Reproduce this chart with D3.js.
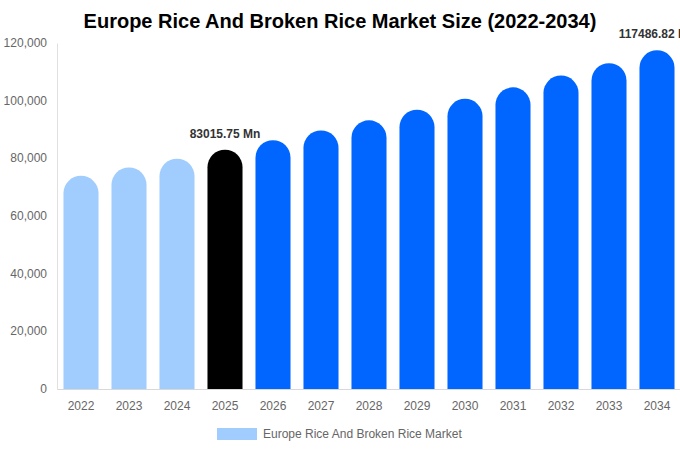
<!DOCTYPE html>
<html>
<head>
<meta charset="utf-8">
<script src="https://d3js.org/d3.v7.min.js"></script>
<style>
body { margin: 0; background: #fff; }
svg { font-family: "Liberation Sans", Arial, sans-serif; }
.tick text { fill: #666; font-size: 12px; }
</style>
</head>
<body>
<svg width="680" height="450"></svg>
<script>
var years = ["2022","2023","2024","2025","2026","2027","2028","2029","2030","2031","2032","2033","2034"];
var values = [73950, 76860, 79880, 83015.75, 86280, 89670, 93190, 96860, 100660, 104620, 108730, 113000, 117486.82];
var yTicks = [0, 20000, 40000, 60000, 80000, 100000, 120000];
var labelled = {"2025": "83015.75 Mn", "2034": "117486.82 Mn"};

var svg = d3.select("svg");
var margin = {left: 57, right: 0, top: 43, bottom: 61};
var width = 680 - margin.left - margin.right,
    height = 450 - margin.top - margin.bottom;

var x = d3.scaleBand().domain(years).range([0, 624]).paddingInner(0.27).paddingOuter(0.135);
var y = d3.scaleLinear().domain([0, 120000]).range([height, 0]);

function barColor(yr) {
  if (+yr < 2025) return "#a0cdfd";
  if (+yr == 2025) return "#000000";
  return "#0066ff";
}

svg.append("text")
   .attr("x", 340).attr("y", 28)
   .attr("text-anchor", "middle")
   .style("font-size", "20px").style("font-weight", "bold").style("fill", "#000")
   .text("Europe Rice And Broken Rice Market Size (2022-2034)");

var g = svg.append("g").attr("transform", "translate(" + margin.left + "," + margin.top + ")");

var yAxis = g.append("g").call(d3.axisLeft(y).tickValues(yTicks).tickSize(0).tickPadding(10).tickFormat(d3.format(",")));
yAxis.select(".domain").attr("stroke", "#e0e0e0");
yAxis.selectAll("text").attr("dy", "0.3em");

var xAxis = g.append("g").attr("transform", "translate(0," + height + ")")
   .call(d3.axisBottom(x).tickSize(0).tickPadding(12));
xAxis.select(".domain").attr("stroke", "#d8d8d8");

function capPath(d, i) {
  var x0 = x(years[i]), w = x.bandwidth(), r = w / 2;
  var top = y(d), bot = y(0);
  return "M" + x0 + "," + bot +
         "V" + (top + r) +
         "A" + r + "," + r + " 0 0 1 " + (x0 + w) + "," + (top + r) +
         "V" + bot + "Z";
}

g.selectAll(".bar").data(values).enter().append("path")
   .attr("class", "bar")
   .attr("d", capPath)
   .attr("fill", function(d, i) { return barColor(years[i]); });

g.selectAll(".lbl").data(values).enter()
   .filter(function(d, i) { return labelled[years[i]]; })
   .append("text")
   .attr("class", "lbl")
   .attr("x", function(d, i) { return x(years[values.indexOf(d)]) + x.bandwidth() / 2; })
   .attr("y", function(d) { return y(d) - 12; })
   .attr("text-anchor", "middle")
   .style("font-size", "12px").style("font-weight", "bold").style("fill", "#333")
   .text(function(d) { return labelled[years[values.indexOf(d)]]; });

var leg = svg.append("g").attr("transform", "translate(217,428)");
leg.append("rect").attr("width", 40).attr("height", 12).attr("fill", "#a0cdfd");
leg.append("text").attr("x", 46).attr("y", 10)
   .style("font-size", "12px").style("fill", "#666")
   .text("Europe Rice And Broken Rice Market");
</script>
</body>
</html>
